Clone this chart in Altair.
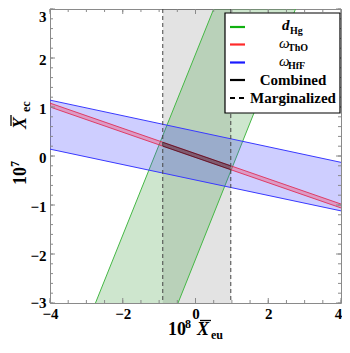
import altair as alt
import pandas as pd

FONT = "Liberation Serif"
W, H = 291, 294

# ---- data ----
x_domain = [-4, 4]
y_domain = [-3, 3]

# Marginalized (gray) band, x edges
marg_x = [-0.90, 0.97]

# d_Hg (green) band: edges given at y = -3 and y = 3
hg_y = [-3, 3]
hg_left = [-2.75, 0.50]
hg_right = [-0.48, 2.75]

# omega_HfF (blue) band
hff_x = [-4, 4]
hff_top = [1.14, -0.13]
hff_bottom = [0.14, -1.12]

# omega_ThO (red) band
tho_x = [-4, 4]
tho_top = [1.08, -0.98]
tho_bottom = [1.00, -1.06]

# Combined region
comb_x = [-0.90, 0.97]
comb_top = [0.28, -0.20]
comb_bottom = [0.20, -0.28]

x_ticks = [-4, -2, 0, 2, 4]
y_ticks = [-3, -2, -1, 0, 1, 2, 3]
x_minor = [i * 0.5 for i in range(-8, 9)]
y_minor = [round(i * 0.2, 1) for i in range(-15, 16)]

legend_main = ["d", "ω", "ω", "Combined", "Marginalized"]
legend_sub = ["Hg", "ThO", "HfF", "", ""]
legend_colors = ["#10b010", "#ff2a2a", "#1a1aff", "#000000", "#000000"]

# ---- scales / axes ----
xs = alt.Scale(domain=x_domain, nice=False, zero=False)
ys = alt.Scale(domain=y_domain, nice=False, zero=False)
xaxis = alt.Axis(values=x_ticks, ticks=False, tickSize=0, domain=False, grid=False,
                 labelFont=FONT, labelFontWeight="bold", labelFontSize=15,
                 labelColor="black", labelPadding=3, labelFlush=False, format="d",
                 labelOffset={"condition": {"test": "datum.value == 4", "value": -3}, "value": 0})
yaxis = alt.Axis(values=y_ticks, ticks=False, tickSize=0, domain=False, grid=False,
                 labelFont=FONT, labelFontWeight="bold", labelFontSize=15,
                 labelColor="black", labelPadding=4, labelFlush=False, format="d",
                 labelOffset={"condition": [{"test": "datum.value == 3", "value": 7},
                                            {"test": "datum.value == -3", "value": -1}],
                              "value": 1})
one = pd.DataFrame({"k": [0]})


def X(f):
    return alt.X(f, type="quantitative", scale=xs, axis=xaxis, title="")


def Y(f):
    return alt.Y(f, type="quantitative", scale=ys, axis=yaxis, title="")


def edges_df(xs_list, ys_lists):
    rows = []
    for e, yl in enumerate(ys_lists):
        for i, (xv, yv) in enumerate(zip(xs_list, yl)):
            rows.append({"e": e, "x": xv, "y": yv, "o": i})
    return pd.DataFrame(rows)


layers = []

# gray marginalized band
gray_df = pd.DataFrame({"x": [marg_x[0]], "x2": [marg_x[1]], "y": [y_domain[0]], "y2": [y_domain[1]]})
layers.append(
    alt.Chart(gray_df).mark_rect(color="#000000", opacity=0.11).encode(
        x=X("x"), x2="x2:Q", y=Y("y"), y2="y2:Q"
    )
)

# green d_Hg band
hg_df = pd.DataFrame({"y": hg_y, "xl": hg_left, "xr": hg_right})
layers.append(
    alt.Chart(hg_df).mark_area(orient="horizontal", color="#3a9a3a", opacity=0.25).encode(
        y=Y("y"), x=X("xl"), x2="xr:Q"
    )
)
hg_edges = []
for e, xl in enumerate([hg_left, hg_right]):
    for i in range(2):
        hg_edges.append({"e": e, "x": xl[i], "y": hg_y[i], "o": i})
layers.append(
    alt.Chart(pd.DataFrame(hg_edges)).mark_line(color="#45b845", strokeWidth=1).encode(
        x=X("x"), y=Y("y"), detail="e:N", order="o:Q"
    )
)

# blue HfF band
hff_df = pd.DataFrame({"x": hff_x, "t": hff_top, "b": hff_bottom})
layers.append(
    alt.Chart(hff_df).mark_area(color="#4040ff", opacity=0.26).encode(
        x=X("x"), y=Y("t"), y2="b:Q"
    )
)
layers.append(
    alt.Chart(edges_df(hff_x, [hff_top, hff_bottom])).mark_line(color="#3a3aff", strokeWidth=1).encode(
        x=X("x"), y=Y("y"), detail="e:N", order="o:Q"
    )
)

# red ThO band
tho_df = pd.DataFrame({"x": tho_x, "t": tho_top, "b": tho_bottom})
layers.append(
    alt.Chart(tho_df).mark_area(color="#ff2040", opacity=0.3).encode(
        x=X("x"), y=Y("t"), y2="b:Q"
    )
)
layers.append(
    alt.Chart(edges_df(tho_x, [tho_top, tho_bottom])).mark_line(color="#e0204a", strokeWidth=1, opacity=0.8).encode(
        x=X("x"), y=Y("y"), detail="e:N", order="o:Q"
    )
)

# combined
comb_df = pd.DataFrame({"x": comb_x, "t": comb_top, "b": comb_bottom})
layers.append(
    alt.Chart(comb_df).mark_area(color="#000000", opacity=0.3).encode(
        x=X("x"), y=Y("t"), y2="b:Q"
    )
)
layers.append(
    alt.Chart(edges_df(comb_x, [comb_top, comb_bottom])).mark_line(color="#000000", strokeWidth=1, opacity=0.45).encode(
        x=X("x"), y=Y("y"), detail="e:N", order="o:Q"
    )
)

# dashed marginalized edges
layers.append(
    alt.Chart(pd.DataFrame({"x": marg_x})).mark_rule(color="#444444", strokeWidth=1, strokeDash=[4, 3]).encode(
        x=X("x"), y=alt.value(0), y2=alt.value(H)
    )
)

# ticks (inward, on all four sides)
tick_color = "#8a8a8a"
xmaj = pd.DataFrame({"t": x_ticks})
xmin = pd.DataFrame({"t": x_minor})
ymaj = pd.DataFrame({"t": y_ticks})
ymin = pd.DataFrame({"t": y_minor})
for df, L in [(xmaj, 5), (xmin, 3)]:
    layers.append(alt.Chart(df).mark_rule(color=tick_color, strokeWidth=1).encode(
        x=X("t"), y=alt.value(H), y2=alt.value(H - L)))
    layers.append(alt.Chart(df).mark_rule(color=tick_color, strokeWidth=1).encode(
        x=X("t"), y=alt.value(0), y2=alt.value(L)))
for df, L in [(ymaj, 5), (ymin, 3)]:
    layers.append(alt.Chart(df).mark_rule(color=tick_color, strokeWidth=1).encode(
        y=Y("t"), x=alt.value(0), x2=alt.value(L)))
    layers.append(alt.Chart(df).mark_rule(color=tick_color, strokeWidth=1).encode(
        y=Y("t"), x=alt.value(W), x2=alt.value(W - L)))

# ---- legend ----
layers.append(
    alt.Chart(one).mark_rect(fill="white", stroke="black", strokeWidth=1.2).encode(
        x=alt.value(175), x2=alt.value(290), y=alt.value(4), y2=alt.value(104)
    )
)
sym_y = [18, 35.5, 53.5, 71, 89]
main_base = [21, 38.5, 56.5, 75.5, 93.5]
for i in range(5):
    if i < 4:
        layers.append(alt.Chart(one).mark_rule(color=legend_colors[i], strokeWidth=2.2).encode(
            x=alt.value(180), x2=alt.value(195), y=alt.value(sym_y[i])))
    else:
        layers.append(alt.Chart(one).mark_rule(color=legend_colors[i], strokeWidth=2.2, strokeDash=[5, 4]).encode(
            x=alt.value(180), x2=alt.value(195), y=alt.value(sym_y[i])))


def txt(s, px, py, size, style="normal", weight="bold", align="left", angle=0):
    kw = dict(text=s, font=FONT, fontSize=size, fontStyle=style, fontWeight=weight,
              align=align, baseline="alphabetic", color="black")
    if angle:
        kw["angle"] = angle
    return alt.Chart(one).mark_text(**kw).encode(x=alt.value(px), y=alt.value(py))


# d_Hg
layers.append(txt(legend_main[0], 232, main_base[0], 15, style="italic"))
layers.append(txt(legend_sub[0], 240, main_base[0] + 3.5, 10))
# omega ThO / HfF
layers.append(txt(legend_main[1], 229, main_base[1], 15, style="italic", weight="normal"))
layers.append(txt(legend_sub[1], 238, main_base[1] + 3.5, 10))
layers.append(txt(legend_main[2], 229, main_base[2], 15, style="italic", weight="normal"))
layers.append(txt(legend_sub[2], 238, main_base[2] + 3.5, 10))
# Combined / Marginalized
layers.append(txt(legend_main[3], 243, main_base[3], 15, align="center"))
layers.append(txt(legend_main[4], 243, main_base[4], 15, align="center"))

# ---- axis titles ----
# x title: 10^8 Xbar_eu
layers.append(txt("10", 118, 326, 18))
layers.append(txt("8", 135, 319, 12))
layers.append(txt("X", 147, 326, 18, style="italic"))
layers.append(alt.Chart(one).mark_rule(color="black", strokeWidth=1.3).encode(
    x=alt.value(150), x2=alt.value(161), y=alt.value(311.5)))
layers.append(txt("eu", 161, 329.5, 12))

# y title (rotated): 10^7 Xbar_ec
layers.append(txt("10", -24, 176, 18, angle=270))
layers.append(txt("7", -31, 158, 12, angle=270))
layers.append(txt("X", -24, 120, 18, style="italic", angle=270))
layers.append(alt.Chart(one).mark_rule(color="black", strokeWidth=1.3).encode(
    y=alt.value(106), y2=alt.value(117), x=alt.value(-39)))
layers.append(txt("ec", -20, 103, 12, angle=270))

chart = alt.layer(*layers).properties(
    width=W, height=H,
    padding={"left": 42, "top": 1, "right": 1, "bottom": 38},
    autosize=alt.AutoSizeParams(type="none"),
).configure_view(stroke="#8a8a8a", strokeWidth=1)

chart.save("out.html", embed_options={"renderer": "svg", "actions": False})
